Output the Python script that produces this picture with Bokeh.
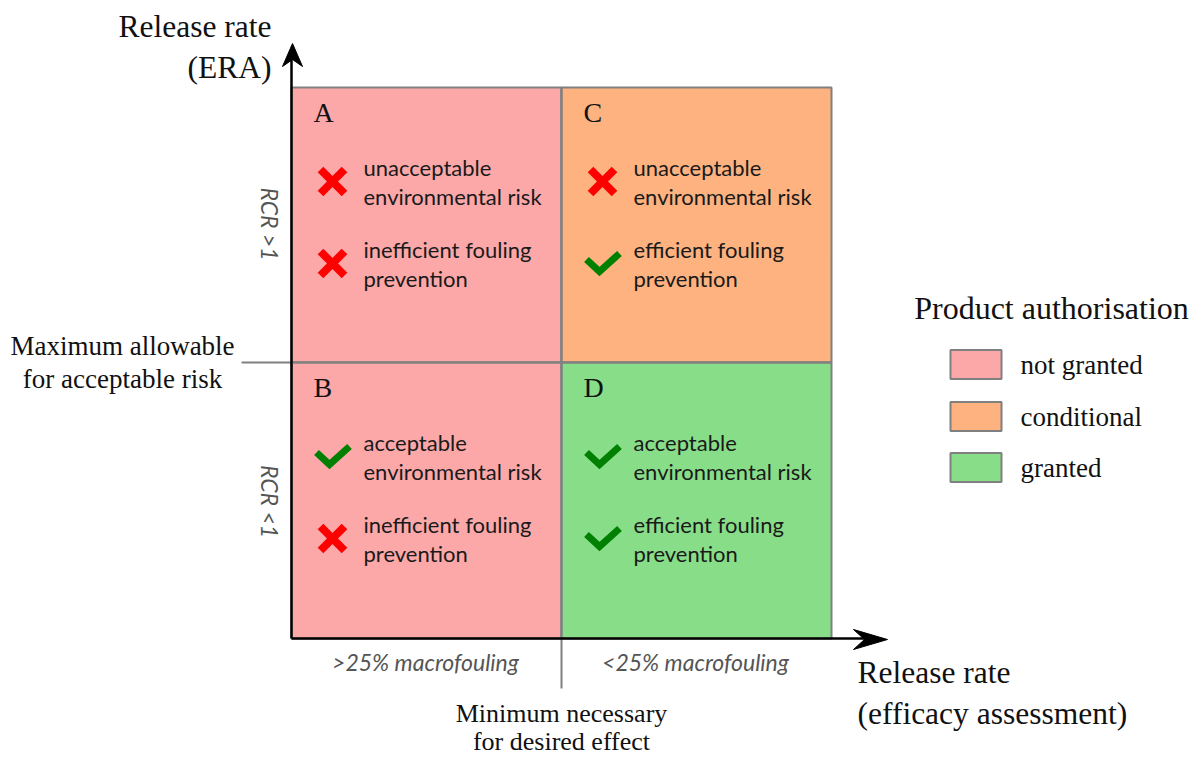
from bokeh.plotting import figure
from bokeh.models import Range1d, ColumnDataSource
from bokeh.embed import file_html
from bokeh.resources import INLINE
from bokeh.core.properties import value

# ---------------- data ----------------
quadrants = ["A", "B", "C", "D"]
quad_col = [0, 0, 1, 1]          # 0 = left (>25% macrofouling), 1 = right (<25%)
quad_row = [0, 1, 0, 1]          # 0 = top (RCR >1), 1 = bottom (RCR <1)
quad_status = ["not granted", "not granted", "conditional", "granted"]
risk_ok = [False, True, False, True]
efficacy_ok = [False, False, True, True]
risk_lines = {True: ["acceptable", "environmental risk"],
              False: ["unacceptable", "environmental risk"]}
eff_lines = {True: ["efficient fouling", "prevention"],
             False: ["inefficient fouling", "prevention"]}
status_labels = ["not granted", "conditional", "granted"]
status_colors = ["#fca8a9", "#fdb280", "#88de88"]
rcr_labels = ["RCR >1", "RCR <1"]
fouling_labels = [">25% macrofouling", "<25% macrofouling"]
y_title = ["Release rate", "(ERA)"]
x_title = ["Release rate", "(efficacy assessment)"]
y_threshold = ["Maximum allowable", "for acceptable risk"]
x_threshold = ["Minimum necessary", "for desired effect"]
legend_title = "Product authorisation"

# ---------------- layout (page pixels) ----------------
W, H = 1198, 758
GX = [291, 561, 831]
GY = [87, 362, 638]
SERIF = value("Liberation Serif")
SANS = value("Lato")
GRAY = "#808080"

p = figure(width=W, height=H, output_backend="svg", toolbar_location=None,
           x_range=Range1d(0, W), y_range=Range1d(H, 0),
           min_border=0, outline_line_color=None)
p.axis.visible = False
p.grid.visible = False

color_of = dict(zip(status_labels, status_colors))

# quadrants
qs = ColumnDataSource(dict(
    left=[GX[c] for c in quad_col], right=[GX[c + 1] for c in quad_col],
    top=[GY[r] for r in quad_row], bottom=[GY[r + 1] for r in quad_row],
    color=[color_of[s] for s in quad_status]))
p.quad(left="left", right="right", top="top", bottom="bottom", source=qs,
       fill_color="color", line_color=GRAY, line_width=2)

# threshold dividers
p.segment(x0=[GX[0] - 50, GX[1]], y0=[GY[1], GY[0]],
          x1=[GX[2], GX[1]], y1=[GY[1], GY[2] + 50],
          line_color=GRAY, line_width=2)

# axes with arrows
p.segment(x0=[GX[0], GX[0]], y0=[GY[2], GY[2]], x1=[GX[0], GX[2] + 38],
          y1=[GY[0] - 30, GY[2]], line_color="black", line_width=2.5)
ax_tip = (GX[0] + 1, GY[0] - 44)
ay_tip = (GX[2] + 56, GY[2] + 1)
p.patch([ax_tip[0], ax_tip[0] + 10, ax_tip[0], ax_tip[0] - 10],
        [ax_tip[1], ax_tip[1] + 23, ax_tip[1] + 16, ax_tip[1] + 23],
        fill_color="black", line_color="black")
p.patch([ay_tip[0], ay_tip[0] - 34, ay_tip[0] - 23, ay_tip[0] - 34],
        [ay_tip[1], ay_tip[1] - 10, ay_tip[1], ay_tip[1] + 10],
        fill_color="black", line_color="black")

# quadrant contents
lt_x, lt_y, lt_txt = [], [], []
it_x, it_y, it_txt = [], [], []
cross_xs, cross_ys, chk_xs, chk_ys = [], [], [], []


def add_mark(ok, cx, cy):
    if ok:
        chk_xs.append([cx - 16, cx - 3, cx + 17])
        chk_ys.append([cy - 4, cy + 8, cy - 10])
    else:
        cross_xs.extend([[cx - 12, cx + 12], [cx - 12, cx + 12]])
        cross_ys.extend([[cy - 12, cy + 12], [cy + 12, cy - 12]])


for q, c, r, rk, ef in zip(quadrants, quad_col, quad_row, risk_ok, efficacy_ok):
    left, top = GX[c], GY[r]
    lt_x.append(left + 22)
    lt_y.append(top + 25)
    lt_txt.append(q)
    for k, (ok, lines) in enumerate([(rk, risk_lines[rk]), (ef, eff_lines[ef])]):
        base = top + 80 + k * 82
        add_mark(ok, left + 41, base + 14)
        for j, t in enumerate(lines):
            it_x.append(left + 72)
            it_y.append(base + j * 29)
            it_txt.append(t)

p.multi_line(cross_xs, cross_ys, line_color="#ff0000", line_width=8, line_cap="butt")
p.multi_line(chk_xs, chk_ys, line_color="#008000", line_width=7, line_join="miter")
p.text(lt_x, lt_y, lt_txt, text_font=SERIF, text_font_size="28px",
       text_baseline="middle", text_align="left", text_color="#111111")
p.text(it_x, it_y, it_txt, text_font=SANS, text_font_size="22px",
       text_baseline="middle", text_align="left", text_color="#1a1a1a")

# RCR labels (rotated) and macrofouling labels
p.text([GX[0] - 22, GX[0] - 22], [(GY[0] + GY[1]) / 2 - 1, (GY[1] + GY[2]) / 2 + 1],
       rcr_labels, angle=-1.5707963, text_font=SANS, text_font_size="23px",
       text_font_style="italic", text_baseline="middle", text_align="center",
       text_color="#555555")
p.text([(GX[0] + GX[1]) / 2 - 1, (GX[1] + GX[2]) / 2 - 1], [GY[2] + 23, GY[2] + 23],
       fouling_labels, text_font=SANS, text_font_size="23px",
       text_font_style="italic", text_baseline="middle", text_align="center",
       text_color="#555555")

# axis titles
p.text([GX[0] - 20] * 2, [26, 67], y_title, text_font=SERIF, text_font_size="31.5px",
       text_baseline="middle", text_align="right", text_color="#111111")
p.text([GX[2] + 26] * 2, [672, 713], x_title, text_font=SERIF, text_font_size="31.5px",
       text_baseline="middle", text_align="left", text_color="#111111")
p.text([122, 122], [345, 378], y_threshold, text_font=SERIF, text_font_size="27px",
       text_baseline="middle", text_align="center", text_color="#111111")
p.text([GX[1]] * 2, [713, 741], x_threshold, text_font=SERIF, text_font_size="26px",
       text_baseline="middle", text_align="center", text_color="#111111")

# legend
leg_y = [364, 416, 467]
p.quad(left=[950] * 3, right=[1001] * 3, top=[y - 14.5 for y in leg_y],
       bottom=[y + 14.5 for y in leg_y], fill_color=status_colors,
       line_color=GRAY, line_width=2)
p.text([1020] * 3, leg_y, status_labels, text_font=SERIF, text_font_size="27px",
       text_baseline="middle", text_align="left", text_color="#111111")
p.text([1051], [307], [legend_title], text_font=SERIF, text_font_size="32px",
       text_baseline="middle", text_align="center", text_color="#111111")

open("out.html", "w").write(file_html(p, INLINE))
